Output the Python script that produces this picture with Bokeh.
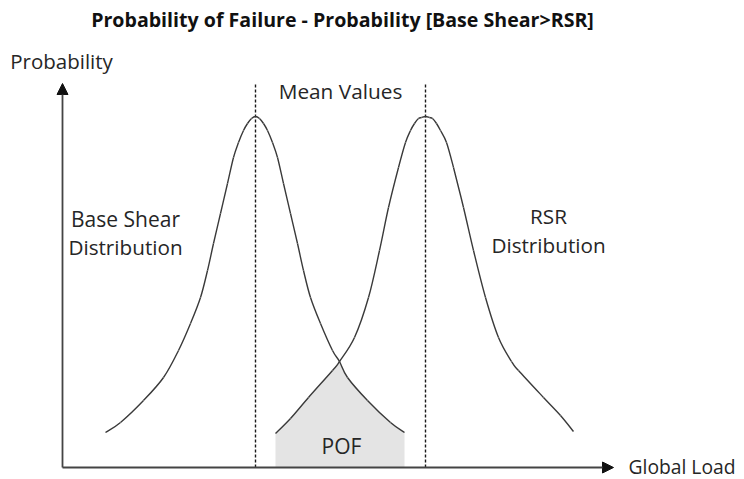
import numpy as np
from bokeh.plotting import figure
from bokeh.models import Range1d, Label, Arrow, NormalHead
from bokeh.embed import file_html
from bokeh.resources import INLINE

# ---- data (x = global load, y = probability) ----
base_shear_load = [43, 58, 81, 101, 116, 128, 138, 145, 151, 158, 165, 171, 176, 181, 185, 189,
                   193, 197, 201, 205, 210, 215, 221, 228, 235, 241, 248, 258, 270, 277, 285,
                   305, 328, 342]
base_shear_prob = [35, 45, 67, 90, 117, 144, 170, 197, 224, 254, 284, 310, 325, 337, 344, 349,
                   351, 349, 344, 337, 325, 310, 284, 254, 224, 197, 170, 144, 117, 106, 90,
                   67, 45, 35]

rsr_load = [213, 228, 246, 270, 277, 292, 306, 317, 326, 336, 343, 348, 352, 356, 359,
            363, 367, 370, 374, 378, 384, 391, 401, 411, 423, 436, 449, 456, 481, 498, 511]
rsr_prob = [34, 49, 70, 97, 106, 130, 170, 217, 260, 300, 325, 337, 344, 349, 350,
            351, 350, 349, 344, 337, 325, 300, 260, 217, 170, 130, 106, 97, 70, 52, 36]

mean_values = [193, 363]          # means of Base Shear and RSR distributions
mean_line_top = 383
x_axis_end = 551
y_axis_end = 384

title_text = "Probability of Failure - Probability [Base Shear>RSR]"
x_label = "Global Load"
y_label = "Probability"

FONT = "Open Sans"
TXT = "#262626"
CURVE = "#3a3a3a"

p = figure(width=744, height=479, x_range=Range1d(-62, 682), y_range=Range1d(-12, 467),
           output_backend="svg", toolbar_location=None, x_axis_type=None, y_axis_type=None,
           min_border=0)
p.outline_line_color = None
p.background_fill_color = "white"

# ---- POF shaded overlap ----
lo = max(min(base_shear_load), min(rsr_load))
hi = min(max(base_shear_load), max(rsr_load))
xs = np.array(sorted({v for v in base_shear_load + rsr_load if lo <= v <= hi}), dtype=float)
ys = np.minimum(np.interp(xs, base_shear_load, base_shear_prob),
                np.interp(xs, rsr_load, rsr_prob))
p.varea(x=xs, y1=0, y2=ys, fill_color="#e4e4e4", fill_alpha=1)

# ---- mean lines ----
p.segment(x0=mean_values, y0=[0, 0], x1=mean_values, y1=[mean_line_top] * 2,
          line_color="#1a1a1a", line_width=1.4, line_dash="3 2")


# ---- distributions: smooth curves through the read points ----
def smooth(xv, yv):
    P = np.column_stack([xv, yv]).astype(float)
    E = np.vstack([P[0], P, P[-1]])
    c0 = E[1:-2] + (E[2:-1] - E[:-3]) / 6.0
    c1 = E[2:-1] - (E[3:] - E[1:-2]) / 6.0
    p.bezier(x0=P[:-1, 0], y0=P[:-1, 1], x1=P[1:, 0], y1=P[1:, 1],
             cx0=c0[:, 0], cy0=c0[:, 1], cx1=c1[:, 0], cy1=c1[:, 1],
             line_color=CURVE, line_width=1.4)


smooth(base_shear_load, base_shear_prob)
smooth(rsr_load, rsr_prob)

# ---- axes with arrows ----
for xe, ye in [(x_axis_end, 0), (0, y_axis_end)]:
    p.add_layout(Arrow(end=NormalHead(size=11, fill_color="#111111", line_color="#111111"),
                       x_start=0, y_start=0, x_end=xe, y_end=ye,
                       line_color="#444444", line_width=1.8))


# ---- texts ----
def lab(x, y, t, size, align="center", bold=False, color=TXT):
    p.add_layout(Label(x=x, y=y, text=t, text_font=FONT, text_font_size=size,
                       text_align=align, text_baseline="middle", text_color=color,
                       text_font_style="bold" if bold else "normal"))


lab(280, 448, title_text, "19.6px", bold=True, color="#111111")
lab(-1, 407, y_label, "20.5px")
lab(278, 377, "Mean Values", "20.8px")
lab(63, 249, "Base Shear", "21px")
lab(63, 221, "Distribution", "20.7px")
lab(486, 252, "RSR", "20.7px")
lab(486, 223, "Distribution", "20.7px")
lab(279, 22, "POF", "21px")
lab(566, 1, x_label, "19.3px", align="left")

open("out.html", "w").write(file_html(p, INLINE))
